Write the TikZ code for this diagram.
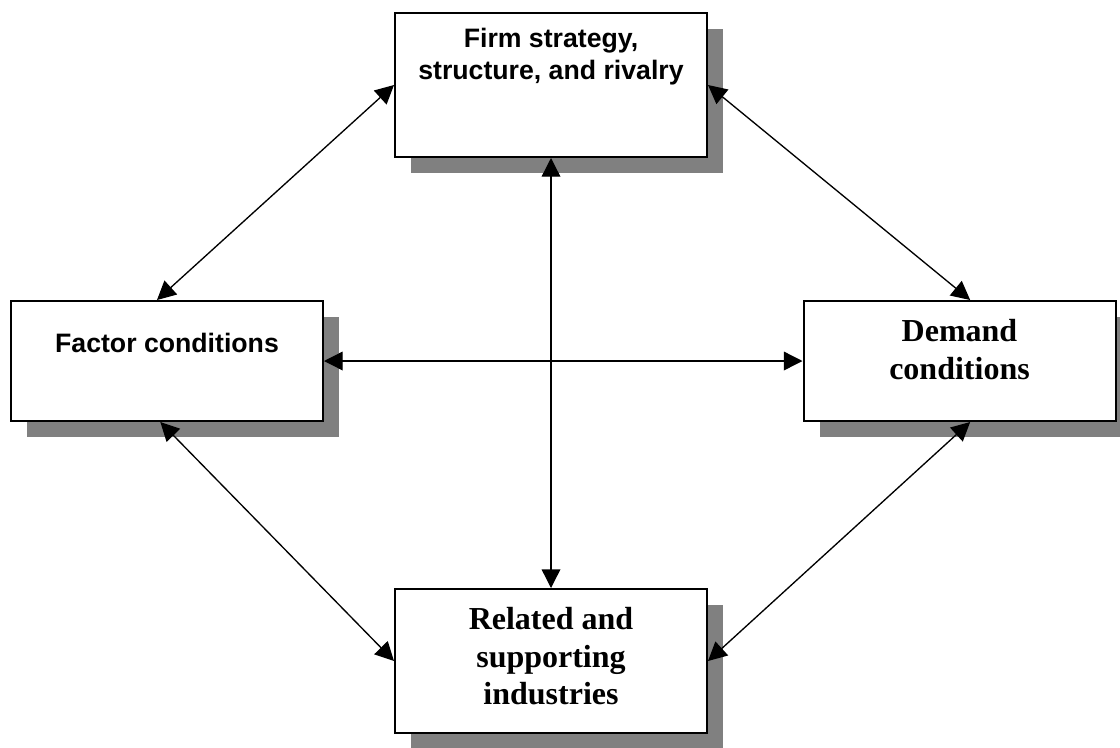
\documentclass[tikz,border=0pt]{standalone}
\usepackage{fontspec}
\setmainfont{Liberation Serif}
\newfontfamily\arialbold{Liberation Sans}[BoldFont={* Bold}]
\usetikzlibrary{arrows.meta,shadows}
\begin{document}
\begin{tikzpicture}[x=0.75pt,y=-0.75pt,
  box/.style={draw=black, line width=1.5pt, fill=white, inner sep=0pt,
    minimum width=234pt, minimum height=#1,
    drop shadow={shadow xshift=12pt, shadow yshift=-12pt, fill=gray, opacity=1}},
  box/.default=108pt,
  sanslabel/.style={anchor=north, inner sep=0pt, align=center,
    font=\arialbold\bfseries\fontsize{20}{24}\selectfont},
  seriflabel/.style={anchor=north, inner sep=0pt, align=center,
    font=\bfseries\fontsize{24}{28}\selectfont},
  link/.style={line width=1pt, {Triangle[length=14pt,width=14pt]}-{Triangle[length=14pt,width=14pt]}}
]
\useasboundingbox (0,0) rectangle (1120,747);
\clip (0,0) rectangle (1120,747);

% the four boxes of the diamond
\node[box=108pt] (firm)    at (551,85)    {};
\node[box=90pt]  (factor)  at (167,361)   {};
\node[box=90pt]  (demand)  at (959.5,361) {};
\node[box=108pt] (related) at (551,661)   {};

% box titles
\node[sanslabel]  (firmtxt)    at ([yshift=-12pt]firm.north)    {Firm strategy,\\structure, and rivalry};
\node[sanslabel]  (factortxt)  at ([yshift=-24.5pt]factor.north) {Factor conditions};
\node[seriflabel] (demandtxt)  at ([yshift=-14.5pt]demand.north) {Demand\\conditions};
\node[seriflabel] (relatedtxt) at ([yshift=-14.5pt]related.north) {Related and\\supporting\\industries};

% connector ends on the boxes
\coordinate (fctop) at ([xshift=-7.5pt]factor.north);
\coordinate (fcbot) at ([xshift=-5pt]factor.south);
\coordinate (dctop) at ([xshift=8pt]demand.north);
\coordinate (dcbot) at ([xshift=8pt]demand.south);

% two-way influences
\draw[link] (firm.west)  -- (fctop);
\draw[link] (firm.east)  -- (dctop);
\draw[link] (fcbot) -- (related.west);
\draw[link] (dcbot) -- (related.east);
\draw[link] (firm.south) -- (related.north);
\draw[link] (factor.east) -- (demand.west);
\end{tikzpicture}
\end{document}
